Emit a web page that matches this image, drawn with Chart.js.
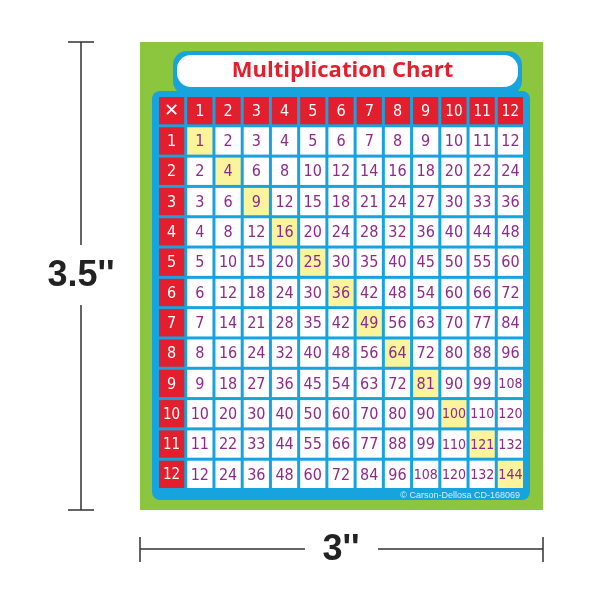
<!DOCTYPE html>
<html>
<head>
<meta charset="utf-8">
<script src="https://cdn.jsdelivr.net/npm/chart.js@4/dist/chart.umd.min.js"></script>
<style>
body { margin: 0; background: #fff; }
</style>
</head>
<body>
<canvas id="chart-area" width="600" height="600"></canvas>
<script>
var title = 'Multiplication Chart';
var headers = ['1', '2', '3', '4', '5', '6', '7', '8', '9', '10', '11', '12'];
var products = [
	[1, 2, 3, 4, 5, 6, 7, 8, 9, 10, 11, 12],
	[2, 4, 6, 8, 10, 12, 14, 16, 18, 20, 22, 24],
	[3, 6, 9, 12, 15, 18, 21, 24, 27, 30, 33, 36],
	[4, 8, 12, 16, 20, 24, 28, 32, 36, 40, 44, 48],
	[5, 10, 15, 20, 25, 30, 35, 40, 45, 50, 55, 60],
	[6, 12, 18, 24, 30, 36, 42, 48, 54, 60, 66, 72],
	[7, 14, 21, 28, 35, 42, 49, 56, 63, 70, 77, 84],
	[8, 16, 24, 32, 40, 48, 56, 64, 72, 80, 88, 96],
	[9, 18, 27, 36, 45, 54, 63, 72, 81, 90, 99, 108],
	[10, 20, 30, 40, 50, 60, 70, 80, 90, 100, 110, 120],
	[11, 22, 33, 44, 55, 66, 77, 88, 99, 110, 121, 132],
	[12, 24, 36, 48, 60, 72, 84, 96, 108, 120, 132, 144]
];
var heightLabel = '3.5\'\'';
var widthLabel = '3\'\'';
var credit = '\u00A9 Carson-Dellosa CD-168069';

var colors = {
	green: '#8cc63f',
	blue: '#17a3de',
	red: '#e31e2d',
	yellow: '#fbf49c',
	purple: '#8e2a8c',
	dim: '#333333'
};

function roundRect(ctx, x, y, w, h, r) {
	ctx.beginPath();
	ctx.roundRect(x, y, w, h, r);
}

var gridPlugin = {
	id: 'grid',
	beforeDraw: function(chart) {
		var ctx = chart.ctx;
		var xs = chart.scales.x, ys = chart.scales.y;
		var left = xs.getPixelForValue(0), right = xs.getPixelForValue(13);
		var top = ys.getPixelForValue(0), bottom = ys.getPixelForValue(13);
		ctx.save();
		// card
		ctx.fillStyle = colors.green;
		ctx.fillRect(left - 19, top - 55, right - left + 36, bottom - top + 74);
		// blue panel + tab behind title
		ctx.fillStyle = colors.blue;
		roundRect(ctx, left - 7, top - 6, right - left + 11, bottom - top + 15, 8);
		ctx.fill();
		roundRect(ctx, left + 14, top - 46, right - left - 18, 44, 14);
		ctx.fill();
		ctx.fillStyle = '#fff';
		roundRect(ctx, left + 18, top - 42, right - left - 26, 32, 14);
		ctx.fill();
		ctx.fillStyle = colors.red;
		ctx.font = 'bold 22px "Open Sans"';
		ctx.textAlign = 'center';
		ctx.textBaseline = 'middle';
		ctx.fillText(title, (left + right) / 2, top - 26);
		// credit
		ctx.fillStyle = 'rgba(255,255,255,0.8)';
		ctx.font = '9px "Liberation Sans"';
		ctx.textAlign = 'right';
		ctx.fillText(credit, right - 6, bottom + 5);
		ctx.restore();
	},
	afterDatasetsDraw: function(chart) {
		var ctx = chart.ctx;
		var xs = chart.scales.x, ys = chart.scales.y;
		ctx.save();
		ctx.textAlign = 'center';
		ctx.textBaseline = 'middle';
		function cell(c, r, fill, text, color, font) {
			var x0 = xs.getPixelForValue(c), x1 = xs.getPixelForValue(c + 1);
			var y0 = ys.getPixelForValue(r), y1 = ys.getPixelForValue(r + 1);
			ctx.fillStyle = fill;
			ctx.fillRect(x0, y0, x1 - x0 - 3, y1 - y0 - 3);
			ctx.fillStyle = color;
			ctx.font = font;
			ctx.fillText(text, (x0 + x1 - 3) / 2, (y0 + y1 - 3) / 2 + 1);
		}
		cell(0, 0, colors.red, '\u2715', '#fff', 'bold 18px "DejaVu Sans"');
		for (var i = 0; i < headers.length; i++) {
			cell(i + 1, 0, colors.red, headers[i], '#fff', (i > 8 ? '15px' : '16px') + ' "DejaVu Sans Condensed", "DejaVu Sans"');
			cell(0, i + 1, colors.red, headers[i], '#fff', (i > 8 ? '15px' : '16px') + ' "DejaVu Sans Condensed", "DejaVu Sans"');
		}
		for (var r = 0; r < products.length; r++) {
			for (var c = 0; c < products[r].length; c++) {
				cell(c + 1, r + 1, r == c ? colors.yellow : '#fff', String(products[r][c]), colors.purple, (products[r][c] > 99 ? '14px' : '16px') + ' "DejaVu Sans Condensed", "DejaVu Sans"');
			}
		}
		// dimension lines
		var left = xs.getPixelForValue(0) - 19, right = xs.getPixelForValue(13) + 17;
		var top = ys.getPixelForValue(0) - 55, bottom = ys.getPixelForValue(13) + 19;
		ctx.strokeStyle = colors.dim;
		ctx.lineWidth = 1.5;
		ctx.beginPath();
		ctx.moveTo(68, top); ctx.lineTo(94, top);
		ctx.moveTo(68, bottom); ctx.lineTo(94, bottom);
		ctx.moveTo(81, top); ctx.lineTo(81, 245);
		ctx.moveTo(81, 305); ctx.lineTo(81, bottom);
		ctx.moveTo(left, 537); ctx.lineTo(left, 562);
		ctx.moveTo(right, 537); ctx.lineTo(right, 562);
		ctx.moveTo(left, 549); ctx.lineTo(305, 549);
		ctx.moveTo(378, 549); ctx.lineTo(right, 549);
		ctx.stroke();
		ctx.fillStyle = '#222';
		ctx.font = 'bold 36px "Liberation Sans Narrow", "Liberation Sans"';
		ctx.fillText(heightLabel, 81, 276);
		ctx.fillText(widthLabel, 341, 550);
		ctx.restore();
	}
};

var config = {
	type: 'scatter',
	data: { datasets: [{ data: [], pointRadius: 0 }] },
	options: {
		responsive: false,
		animation: false,
		layout: { padding: { left: 159, right: 74, top: 97, bottom: 109 } },
		plugins: { legend: { display: false }, tooltip: { enabled: false } },
		scales: {
			x: { type: 'linear', min: 0, max: 13, display: false },
			y: { type: 'linear', min: 0, max: 13, reverse: true, display: false }
		}
	},
	plugins: [gridPlugin]
};

var chart = new Chart(document.getElementById('chart-area').getContext('2d'), config);
</script>
</body>
</html>
